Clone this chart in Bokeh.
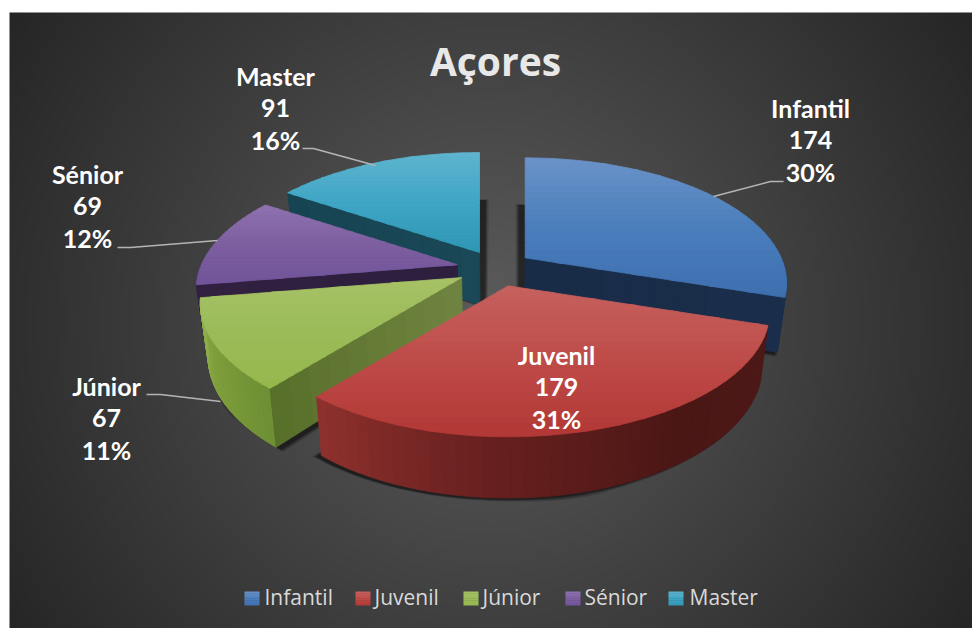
import numpy as np
from bokeh.plotting import figure
from bokeh.models import Range1d, ColumnDataSource
from bokeh.core.properties import value
from bokeh.embed import file_html
from bokeh.resources import INLINE

# ---- data ----
categories = ["Infantil", "Juvenil", "Júnior", "Sénior", "Master"]
values = [174, 179, 67, 69, 91]
percents = ["30%", "31%", "11%", "12%", "16%"]
title_text = "Açores"

# ---- styles ----
top_colors = {
    "Infantil": ["#6b93c9", "#4a7ebb", "#3e6fb0"],
    "Juvenil": ["#c6625f", "#be4b48", "#b23835"],
    "Júnior": ["#a6c266", "#9bbb59", "#96b84d"],
    "Sénior": ["#8f72b0", "#7d5fa0", "#72549a"],
    "Master": ["#5fb4ce", "#3fa6c6", "#2f97b4"],
}
wall_colors = {
    "Infantil": ["#1a3050", "#1a3050"],
    "Juvenil": ["#4e1918", "#4a1715", "#651f1e", "#8e302d"],
    "Júnior": ["#6f9034", "#7f9f3c", "#8fae4c"],
    "Sénior": ["#2f2040", "#2f2040"],
    "Master": ["#174452", "#174452"],
}
side_colors = {
    "Infantil": ("#1a2d4a", "#182c48"),
    "Júnior": ("#586f2a", "#6f8440"),
    "Sénior": ("#312040", "#2e1f3e"),
    "Master": ("#174452", "#1a4856"),
}
label_pos = {
    "Infantil": (810, 108), "Juvenil": (556, 355), "Júnior": (106, 386),
    "Sénior": (87, 174), "Master": (275, 76),
}
leaders = [
    [(713, 196), (770, 181), (783, 181)],
    [(302, 148), (313, 148), (375, 165)],
    [(117, 247), (130, 247), (217, 240)],
    [(146, 394), (160, 394), (220, 401)],
]
legend_swatch_x = [244, 355, 463, 565, 668]
legend_text_x = [264, 374, 482, 584, 689]
draw_order = ["Master", "Infantil", "Sénior", "Júnior", "Juvenil"]
apex_nudge = {"Juvenil": 3, "Master": 3}

CX, CY = 494.0, 268.0
RX, RY, K = 256.0, 120.3, 0.203
EXPLODE = 0.146
DEPTH = 52.5
DEPTH_PERSP = 0.65
XSHRINK = 0.973


def hex2rgb(h):
    return np.array([int(h[i:i + 2], 16) for i in (1, 3, 5)], float)


def ramp(colors, t):
    t = min(max(t, 0.0), 1.0) * (len(colors) - 1)
    i = min(int(t), len(colors) - 2)
    c = hex2rgb(colors[i]) * (1 - (t - i)) + hex2rgb(colors[i + 1]) * (t - i)
    return "#%02x%02x%02x" % tuple(int(round(v)) for v in c)


def project(theta, ax, ay, r=1.0):
    u, v = np.sin(theta), np.cos(theta)
    w = 1.0 / (1.0 + K * v * r)
    return ax + RX * u * r * w, ay - RY * v * r * w, w


def drop(x, y, w):
    return CX + (x - CX) * XSHRINK, y + DEPTH * (1 + DEPTH_PERSP * (w - 1))


def clip_band(poly, y0, y1):
    def clip(pts, keep, cross):
        out = []
        for i in range(len(pts)):
            a, b = pts[i], pts[(i + 1) % len(pts)]
            if keep(a):
                out.append(a)
            if keep(a) != keep(b):
                out.append(cross(a, b))
        return out

    def at(yc):
        return lambda a, b: (a[0] + (b[0] - a[0]) * (yc - a[1]) / (b[1] - a[1]), yc)

    pts = clip(poly, lambda p: p[1] >= y0, at(y0))
    return clip(pts, lambda p: p[1] <= y1, at(y1)) if pts else pts


def dilate(poly, d):
    c = np.mean(poly, axis=0)
    out = []
    for p in poly:
        dv = np.array(p) - c
        out.append(tuple(c + dv * (1 + d / max(np.hypot(*dv), 1e-6))))
    return out


xs, ys, fills, alphas, line_alphas = [], [], [], [], []


def add(poly, color, alpha=1.0, line_alpha=None):
    xs.append([p[0] for p in poly])
    ys.append([p[1] for p in poly])
    fills.append(color)
    alphas.append(alpha)
    line_alphas.append(alpha if line_alpha is None else line_alpha)


total = sum(values)
angles = {}
acc = 0.0
for c, val in zip(categories, values):
    a0 = acc / total * 2 * np.pi
    acc += val
    angles[c] = (a0, acc / total * 2 * np.pi)

for name in draw_order:
    t0, t1 = angles[name]
    mid = (t0 + t1) / 2
    ax = CX + EXPLODE * 260.0 * np.sin(mid) + apex_nudge.get(name, 0)
    ay = CY - EXPLODE * 124.0 * np.cos(mid)
    thetas = np.linspace(t0, t1, 46)
    rim = [project(t, ax, ay) for t in thetas]
    top = [(ax, ay)] + [(p[0], p[1]) for p in rim]
    bx, by = drop(ax, ay, 1.0)
    bottom = [(bx, by)] + [drop(*p) for p in rim]

    # soft shadow under the slice
    shift = 4 if bx < CX else -4
    shadow = [(p[0] + shift, p[1] + 1) for p in bottom]
    for d, al in ((5, 0.14), (3.5, 0.22), (2, 0.35)):
        add(dilate(shadow, d), "#000000", al, 0.0)

    # outer wall
    front = [i for i, t in enumerate(thetas) if np.cos(t) < 0.02]
    wc = wall_colors[name]
    if front:
        n = len(front)
        for j in range(n - 1):
            i0, i1 = front[j], front[j + 1]
            poly = [rim[i0][:2], rim[i1][:2], drop(*rim[i1]), drop(*rim[i0])]
            add(poly, ramp(wc, j / max(n - 2, 1)))

    # visible flat side
    if name in side_colors:
        edge = t0 if np.cos(t0 - np.pi / 2) < 0 else t1
        e = project(edge, ax, ay)
        sc = side_colors[name]
        m = 10
        for j in range(m):
            f0, f1 = j / m, (j + 1) / m
            a = (e[0] + (ax - e[0]) * f0, e[1] + (ay - e[1]) * f0)
            b = (e[0] + (ax - e[0]) * f1, e[1] + (ay - e[1]) * f1)
            w0 = e[2] + (1 - e[2]) * f0
            w1 = e[2] + (1 - e[2]) * f1
            add([a, b, drop(b[0], b[1], w1), drop(a[0], a[1], w0)], ramp(sc, (f0 + f1) / 2))

    # top face with a vertical gradient
    ymin = min(p[1] for p in top)
    ymax = max(p[1] for p in top)
    bands = 24
    for j in range(bands):
        y0 = ymin + (ymax - ymin) * j / bands
        y1 = ymin + (ymax - ymin) * (j + 1) / bands
        piece = clip_band(top, y0, y1 + 0.8)
        if len(piece) >= 3:
            add(piece, ramp(top_colors[name], (j + 0.5) / bands))

p = figure(width=972, height=628, output_backend="svg", toolbar_location=None,
           x_range=Range1d(0, 972), y_range=Range1d(628, 0),
           min_border=0, outline_line_color=None, border_fill_color="#ffffff",
           background_fill_color="#ffffff")
p.axis.visible = False
p.grid.visible = False

# radial background
W, H = 963, 616
gx, gy = np.meshgrid(np.arange(W) + 9.5, np.arange(H) + 12.5)
rr = np.hypot(gx - 490, gy - 318) / 570.0
lev = 0x5c + (0x26 - 0x5c) * np.clip(rr, 0, 1)
img = np.zeros((H, W), dtype=np.uint32)
view = img.view(dtype=np.uint8).reshape((H, W, 4))
lv = lev.astype(np.uint8)
view[..., 0] = lv
view[..., 1] = lv
view[..., 2] = lv
view[..., 3] = 255
p.image_rgba(image=[img[::-1]], x=9, y=12, dw=W, dh=H)

p.patches("xs", "ys", source=ColumnDataSource(dict(xs=xs, ys=ys, fill=fills, a=alphas, la=line_alphas)),
          fill_color="fill", fill_alpha="a", line_color="fill", line_alpha="la", line_width=0.8)

for pts in leaders:
    p.line([q[0] for q in pts], [q[1] for q in pts], line_color="#b4b4b4", line_width=1.6)

lx, ly, lt = [], [], []
for c, val, pc in zip(categories, values, percents):
    x0, y0 = label_pos[c]
    for k, s in enumerate((c, str(val), pc)):
        lx.append(x0)
        ly.append(y0 + k * 32 - 1)
        lt.append(s)
p.text(lx, ly, text=lt, text_font=value("Lato"), text_font_style="bold", text_font_size="25px",
       text_color="#ffffff", text_align="center", text_baseline="middle")

p.text([495], [60], text=[title_text], text_font=value("Open Sans"), text_font_style="bold",
       text_font_size="39px", text_color="#e8e8e8", text_align="center", text_baseline="middle")

for c, sx, tx in zip(categories, legend_swatch_x, legend_text_x):
    key = [(sx, 591), (sx + 15, 591), (sx + 15, 605), (sx, 605)]
    for j in range(8):
        piece = clip_band(key, 591 + j * 14 / 8, 591 + (j + 1) * 14 / 8 + 0.3)
        p.patch([q[0] for q in piece], [q[1] for q in piece], fill_color=ramp(top_colors[c], (j + .5) / 8),
                line_color=None)
p.text(legend_text_x, [596] * 5, text=categories, text_font=value("Open Sans"), text_font_size="21px",
       text_color="#d9d9d9", text_align="left", text_baseline="middle")

open("out.html", "w").write(file_html(p, INLINE))
